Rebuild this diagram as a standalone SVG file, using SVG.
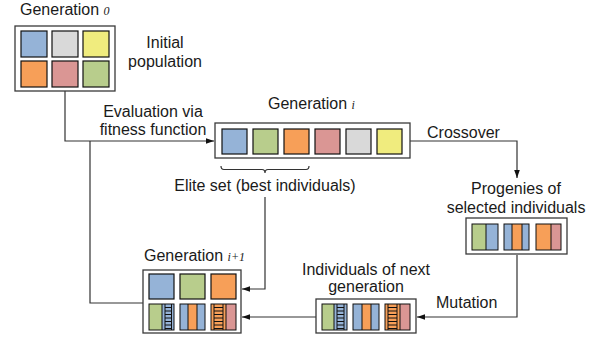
<svg xmlns="http://www.w3.org/2000/svg" width="599" height="343" viewBox="0 0 599 343">
<defs>
<style>
text{font-family:"Liberation Sans",Arial,sans-serif;font-size:16px;fill:#1a1a1a}
.m{text-anchor:middle}
.it{font-family:"Liberation Serif","Times New Roman",serif;font-style:italic;font-size:12px}
.box{fill:#fff;stroke:#3a3a3a;stroke-width:1.3}
.c{stroke:#111;stroke-width:1.2}
.bl{fill:#95B3D7}.gr{fill:#D9D9D9}.ye{fill:#F0EC7E}.or{fill:#F79F58}.pk{fill:#DA9694}.gn{fill:#B8CD8C}
.ln{fill:none;stroke:#111;stroke-width:1}
.con{fill:none;stroke:#333;stroke-width:1.2}
</style>
<marker id="ah" viewBox="0 0 10 10" refX="10" refY="5" markerWidth="8" markerHeight="8" markerUnits="userSpaceOnUse" orient="auto">
<path d="M0,1.5 L10,5 L0,8.5 Z" fill="#111"/>
</marker>
</defs>

<g id="connectors">
<path class="con" d="M65,91 V141 H214" marker-end="url(#ah)"/>
<path class="con" d="M143,303 H90 V141"/>
<path class="con" d="M410,141 H517 V178" marker-end="url(#ah)"/>
<path class="con" d="M517,255 V317 H417" marker-end="url(#ah)"/>
<path class="con" d="M316,317 H242" marker-end="url(#ah)"/>
<path class="con" d="M221,166 Q221,169.5 224,169.5 H262 Q265,169.5 265,173 Q265,169.5 268,169.5 H306 Q309,169.5 309,166"/>
<path class="con" d="M265,197 V289 H242" marker-end="url(#ah)"/>
</g>

<g id="gen0">
<text x="20" y="15">Generation <tspan class="it">0</tspan></text>
<rect class="box" x="15" y="26" width="100" height="65"/>
<rect class="c bl" x="21" y="31" width="26" height="26"/>
<rect class="c gr" x="52" y="31" width="26" height="26"/>
<rect class="c ye" x="83" y="31" width="26" height="26"/>
<rect class="c or" x="21" y="61" width="26" height="26"/>
<rect class="c pk" x="52" y="61" width="26" height="26"/>
<rect class="c gn" x="83" y="61" width="26" height="26"/>
</g>

<g id="initial-label">
<text class="m" x="165" y="48">Initial</text>
<text class="m" x="165" y="67">population</text>
</g>

<g id="evaluation-label">
<text class="m" x="153" y="117">Evaluation via</text>
<text class="m" x="153" y="135">fitness function</text>
</g>

<g id="geni">
<text x="268" y="109">Generation <tspan class="it">i</tspan></text>
<rect class="box" x="215" y="123" width="195" height="35"/>
<rect class="c bl" x="222" y="129" width="25" height="25"/>
<rect class="c gn" x="253" y="129" width="25" height="25"/>
<rect class="c or" x="284" y="129" width="25" height="25"/>
<rect class="c pk" x="315" y="129" width="25" height="25"/>
<rect class="c gr" x="346" y="129" width="25" height="25"/>
<rect class="c ye" x="377" y="129" width="25" height="25"/>
</g>

<g id="crossover-label"><text x="427" y="138">Crossover</text></g>
<g id="elite-label"><text class="m" x="265" y="191">Elite set (best individuals)</text></g>
<g id="mutation-label"><text x="436" y="308">Mutation</text></g>

<g id="progenies">
<text class="m" x="516" y="194">Progenies of</text>
<text class="m" x="516" y="213">selected individuals</text>
<rect class="box" x="466" y="218" width="101" height="36"/>
<rect class="gn" x="472" y="224" width="14" height="26"/>
<rect class="bl" x="486" y="224" width="12" height="26"/>
<rect class="ln" x="472" y="224" width="26" height="26"/>
<line class="ln" x1="486" y1="224" x2="486" y2="250"/>
<rect class="bl" x="504" y="224" width="25" height="26"/>
<rect class="or" x="512" y="224" width="10" height="26"/>
<rect class="ln" x="504" y="224" width="25" height="26"/>
<path class="ln" d="M512,224 V250 M522,224 V250"/>
<rect class="or" x="536" y="224" width="15" height="26"/>
<rect class="pk" x="551" y="224" width="10" height="26"/>
<rect class="ln" x="536" y="224" width="25" height="26"/>
<line class="ln" x1="551" y1="224" x2="551" y2="250"/>
</g>

<g id="next">
<text class="m" x="366" y="275">Individuals of next</text>
<text class="m" x="366" y="292">generation</text>
<rect class="box" x="316" y="299" width="100" height="34"/>
<rect class="gn" x="322" y="304" width="12" height="26"/>
<rect class="bl" x="334" y="304" width="13" height="26"/>
<path class="ln" d="M337,304 V330 M344,304 V330 M337,307.5 H344 M337,311 H344 M337,314.5 H344 M337,318 H344 M337,321.5 H344 M337,325 H344 M337,328.5 H344"/>
<rect class="ln" x="322" y="304" width="25" height="26"/>
<line class="ln" x1="334" y1="304" x2="334" y2="330"/>
<rect class="bl" x="353" y="304" width="26" height="26"/>
<rect class="or" x="362" y="304" width="9" height="26"/>
<rect class="ln" x="353" y="304" width="26" height="26"/>
<path class="ln" d="M362,304 V330 M371,304 V330"/>
<rect class="or" x="385" y="304" width="15" height="26"/>
<rect class="pk" x="400" y="304" width="10" height="26"/>
<path class="ln" d="M388,304 V330 M397,304 V330 M388,307.5 H397 M388,311 H397 M388,314.5 H397 M388,318 H397 M388,321.5 H397 M388,325 H397 M388,328.5 H397"/>
<rect class="ln" x="385" y="304" width="25" height="26"/>
<line class="ln" x1="400" y1="304" x2="400" y2="330"/>
</g>

<g id="geni1">
<text x="144" y="261">Generation <tspan class="it">i+1</tspan></text>
<rect class="box" x="143" y="270" width="98" height="63"/>
<rect class="c bl" x="149" y="274" width="25" height="25"/>
<rect class="c gn" x="180" y="274" width="25" height="25"/>
<rect class="c or" x="211" y="274" width="25" height="25"/>
<rect class="gn" x="149" y="304" width="13" height="26"/>
<rect class="bl" x="162" y="304" width="12" height="26"/>
<path class="ln" d="M165,304 V330 M171.5,304 V330 M165,307.5 H171.5 M165,311 H171.5 M165,314.5 H171.5 M165,318 H171.5 M165,321.5 H171.5 M165,325 H171.5 M165,328.5 H171.5"/>
<rect class="ln" x="149" y="304" width="25" height="26"/>
<line class="ln" x1="162" y1="304" x2="162" y2="330"/>
<rect class="bl" x="180" y="304" width="25" height="26"/>
<rect class="or" x="188" y="304" width="9" height="26"/>
<rect class="ln" x="180" y="304" width="25" height="26"/>
<path class="ln" d="M188,304 V330 M197,304 V330"/>
<rect class="or" x="211" y="304" width="15" height="26"/>
<rect class="pk" x="226" y="304" width="10" height="26"/>
<path class="ln" d="M214,304 V330 M223,304 V330 M214,307.5 H223 M214,311 H223 M214,314.5 H223 M214,318 H223 M214,321.5 H223 M214,325 H223 M214,328.5 H223"/>
<rect class="ln" x="211" y="304" width="25" height="26"/>
<line class="ln" x1="226" y1="304" x2="226" y2="330"/>
</g>
</svg>
